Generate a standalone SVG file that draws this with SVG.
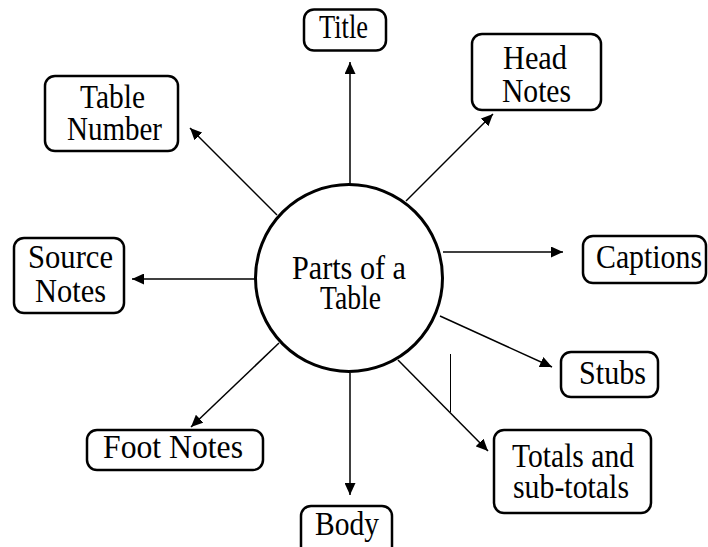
<svg xmlns="http://www.w3.org/2000/svg" width="708" height="547" viewBox="0 0 708 547">
<style>
.box{fill:#fff;stroke:#000;stroke-width:2.5}
.t{font-family:"Liberation Serif","Times New Roman",serif;font-size:33px;fill:#000;text-anchor:start}
.c{fill:none;stroke:#000;stroke-width:1.5}
</style>
<defs>
<marker id="ah" markerUnits="userSpaceOnUse" markerWidth="12" markerHeight="11" refX="12" refY="5.5" orient="auto">
<path d="M0,0 L12,5.5 L0,11 z" fill="#000"/>
</marker>
</defs>
<rect width="708" height="547" fill="#fff"/>
<g id="connectors">
<line class="c" x1="350" y1="184" x2="350" y2="62" marker-end="url(#ah)"/>
<line class="c" x1="406" y1="201" x2="493" y2="114" marker-end="url(#ah)"/>
<line class="c" x1="277" y1="215" x2="190" y2="128" marker-end="url(#ah)"/>
<line class="c" x1="443" y1="252" x2="563" y2="252" marker-end="url(#ah)"/>
<line class="c" x1="255" y1="279" x2="132" y2="279" marker-end="url(#ah)"/>
<line class="c" x1="440" y1="316" x2="552" y2="367" marker-end="url(#ah)"/>
<line class="c" x1="398" y1="360" x2="488" y2="451" marker-end="url(#ah)"/>
<line class="c" x1="279" y1="343" x2="191" y2="427" marker-end="url(#ah)"/>
<line class="c" x1="350" y1="373" x2="350" y2="495" marker-end="url(#ah)"/>
<line x1="450.5" y1="354" x2="450.5" y2="412" stroke="#000" stroke-width="1"/>
</g>
<g id="center">
<circle cx="349" cy="278" r="93.5" fill="#fff" stroke="#000" stroke-width="3"/>
<text class="t" x="292" y="279" textLength="114" lengthAdjust="spacingAndGlyphs">Parts of a</text>
<text class="t" x="320" y="309" textLength="61" lengthAdjust="spacingAndGlyphs">Table</text>
</g>
<g id="title">
<rect class="box" x="304" y="9.5" width="82" height="41" rx="10"/>
<text class="t" x="319" y="38" textLength="49" lengthAdjust="spacingAndGlyphs">Title</text>
</g>
<g id="headnotes">
<rect class="box" x="472" y="34" width="129" height="76" rx="10"/>
<text class="t" x="503" y="69" textLength="64" lengthAdjust="spacingAndGlyphs">Head</text>
<text class="t" x="502" y="102" textLength="69" lengthAdjust="spacingAndGlyphs">Notes</text>
</g>
<g id="tablenumber">
<rect class="box" x="45" y="76" width="133" height="75" rx="10"/>
<text class="t" x="80" y="108" textLength="65" lengthAdjust="spacingAndGlyphs">Table</text>
<text class="t" x="67" y="140" textLength="95" lengthAdjust="spacingAndGlyphs">Number</text>
</g>
<g id="captions">
<rect class="box" x="583" y="236" width="123" height="47" rx="10"/>
<text class="t" x="596" y="268" textLength="106" lengthAdjust="spacingAndGlyphs">Captions</text>
</g>
<g id="sourcenotes">
<rect class="box" x="14" y="238" width="110" height="75" rx="10"/>
<text class="t" x="28" y="268" textLength="85" lengthAdjust="spacingAndGlyphs">Source</text>
<text class="t" x="35" y="302" textLength="71" lengthAdjust="spacingAndGlyphs">Notes</text>
</g>
<g id="stubs">
<rect class="box" x="561" y="352" width="97" height="45" rx="10"/>
<text class="t" x="579" y="384" textLength="67" lengthAdjust="spacingAndGlyphs">Stubs</text>
</g>
<g id="totals">
<rect class="box" x="494" y="430" width="157" height="83" rx="10"/>
<text class="t" x="512" y="467" textLength="122" lengthAdjust="spacingAndGlyphs">Totals and</text>
<text class="t" x="513" y="498" textLength="116" lengthAdjust="spacingAndGlyphs">sub-totals</text>
</g>
<g id="footnotes">
<rect class="box" x="87" y="430" width="176" height="40" rx="10"/>
<text class="t" x="103" y="458" textLength="140" lengthAdjust="spacingAndGlyphs">Foot Notes</text>
</g>
<g id="body">
<rect class="box" x="301" y="506" width="91" height="60" rx="10"/>
<text class="t" x="315" y="535" textLength="64" lengthAdjust="spacingAndGlyphs">Body</text>
</g>
</svg>
